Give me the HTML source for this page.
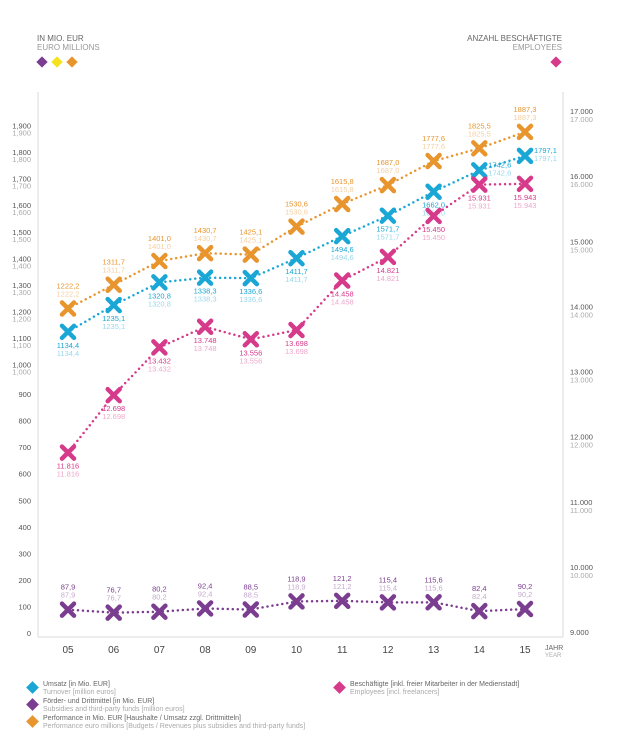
<!DOCTYPE html>
<html><head><meta charset="utf-8"><style>
body{margin:0;background:#fff;font-family:"Liberation Sans",sans-serif;}
svg text{font-family:"Liberation Sans",sans-serif;}
</style></head><body>
<svg id="chart" width="624" height="748" viewBox="0 0 624 748" xmlns="http://www.w3.org/2000/svg">
<g>
<text x="37" y="41" font-size="8" fill="#666">IN MIO. EUR</text>
<text x="37" y="50" font-size="8" fill="#999">EURO MILLIONS</text>
<rect x="38" y="58" width="8" height="8" fill="#7b3d8f" transform="rotate(45 42 62)"/>
<rect x="53" y="58" width="8" height="8" fill="#f5e21c" transform="rotate(45 57 62)"/>
<rect x="68" y="58" width="8" height="8" fill="#e8952e" transform="rotate(45 72 62)"/>
</g>
<g>
<text x="562" y="41" font-size="8" fill="#666" text-anchor="end">ANZAHL BESCHÄFTIGTE</text>
<text x="562" y="50" font-size="8" fill="#999" text-anchor="end">EMPLOYEES</text>
<rect x="552" y="58" width="8" height="8" fill="#d63a8a" transform="rotate(45 556 62)"/>
</g>
<g stroke="#e6e6e6" stroke-width="1.5">
<line x1="38" y1="92" x2="38" y2="637"/>
<line x1="563" y1="92" x2="563" y2="637"/>
<line x1="38" y1="637" x2="563" y2="637"/>
</g>
<g id="leftTicks"></g>
<g id="rightTicks"></g>
<g id="xTicks"></g>
<text x="545" y="650" font-size="7" fill="#666">JAHR</text>
<text x="545" y="657" font-size="6" fill="#aaa">YEAR</text>
<g id="series"></g>
<g font-size="7">
<g>
<rect x="28" y="683" width="9" height="9" fill="#1aa7d6" transform="rotate(45 32.5 687.5)"/>
<text x="43" y="686" fill="#666">Umsatz [in Mio. EUR]</text><text x="43" y="694" fill="#aaa">Turnover [million euros]</text></g>
<g>
<rect x="28" y="700" width="9" height="9" fill="#7b3d8f" transform="rotate(45 32.5 704.5)"/>
<text x="43" y="703" fill="#666">Förder- und Drittmittel [in Mio. EUR]</text><text x="43" y="711" fill="#aaa">Subsidies and third-party funds [million euros]</text></g>
<g>
<rect x="28" y="717" width="9" height="9" fill="#e8952e" transform="rotate(45 32.5 721.5)"/>
<text x="43" y="720" fill="#666">Performance in Mio. EUR [Haushalte / Umsatz zzgl. Drittmitteln]</text><text x="43" y="728" fill="#aaa">Performance euro millions [Budgets / Revenues plus subsidies and third-party funds]</text></g>
<g>
<rect x="335" y="683" width="9" height="9" fill="#d63a8a" transform="rotate(45 339.5 687.5)"/>
<text x="350" y="686" fill="#666">Beschäftigte [inkl. freier Mitarbeiter in der Medienstadt]</text><text x="350" y="694" fill="#aaa">Employees [incl. freelancers]</text></g>
</g>
</svg>
<script>
const years = ["05","06","07","08","09","10","11","12","13","14","15"];
const performance = [1222.2,1311.7,1401.0,1430.7,1425.1,1530.6,1615.8,1687.0,1777.6,1825.5,1887.3];
const turnover = [1134.4,1235.1,1320.8,1338.3,1336.6,1411.7,1494.6,1571.7,1662.0,1742.6,1797.1];
const subsidies = [87.9,76.7,80.2,92.4,88.5,118.9,121.2,115.4,115.6,82.4,90.2];
const employees = [11816,12698,13432,13748,13556,13698,14458,14821,15450,15931,15943];
const leftTicks = [0,100,200,300,400,500,600,700,800,900,1000,1100,1200,1300,1400,1500,1600,1700,1800,1900];
const rightTicks = [9000,10000,11000,12000,13000,14000,15000,16000,17000];

const NS="http://www.w3.org/2000/svg";
const xS=i=>68+i*45.7;
const yL=v=>633-v*0.2655;
const yR=v=>636-(v-9000)*(521/8000);
function mk(tag,attrs,parent){const e=document.createElementNS(NS,tag);for(const k in attrs)e.setAttribute(k,attrs[k]);parent.appendChild(e);return e;}
function fmt(v,dec){let s=dec?v.toFixed(1).replace('.',','):String(v);return s;}
function thou(v){return String(v).replace(/\B(?=(\d{3})+(?!\d))/g,'.');}

const lt=document.getElementById('leftTicks');
leftTicks.forEach(v=>{
  const y=yL(v);
  const big=v>=1000;
  const t=mk('text',{x:31,y:big?y:y+3,'font-size':7.5,fill:'#555','text-anchor':'end'},lt);
  t.textContent=big?thou(v).replace('.',','):String(v);
  
  
  if(big){const t2=mk('text',{x:31,y:y+7,'font-size':7.5,fill:'#aaa','text-anchor':'end'},lt);
  t2.textContent=thou(v).replace('.',',');
  
  }
});
const rt=document.getElementById('rightTicks');
rightTicks.forEach(v=>{
  const y=yR(v);
  const t=mk('text',{x:570,y:y-1,'font-size':7.5,fill:'#555'},rt);
  t.textContent=thou(v);
  
  
  if(v>9000){const t2=mk('text',{x:570,y:y+7,'font-size':7.5,fill:'#aaa'},rt);t2.textContent=thou(v);
  
  }
});
const xt=document.getElementById('xTicks');
years.forEach((yr,i)=>{
  const t=mk('text',{x:xS(i),y:653,'font-size':10,fill:'#444','text-anchor':'middle'},xt);
  t.textContent=yr;
  
  
});

const sg=document.getElementById('series');
function drawSeries(name,vals,yf,color,labelPos,isEmp){
  const g=mk('g',{},sg);
  
  
  const pts=vals.map((v,i)=>xS(i)+','+yf(v)).join(' ');
  const pl=mk('polyline',{points:pts,fill:'none',stroke:color,'stroke-width':2.5,'stroke-dasharray':'0 5','stroke-linecap':'round'},g);
  
  
  vals.forEach((v,i)=>{
    const x=xS(i),y=yf(v);
    const m=mk('path',{d:`M${x-6},${y-6}L${x+6},${y+6}M${x+6},${y-6}L${x-6},${y+6}`,stroke:color,'stroke-width':4.5,'stroke-linecap':'round'},g);
    
    
    let lx=x,ly,anchor='middle';
    const pos=labelPos(i);
    if(pos==='above')ly=y-20;else if(pos==='right'){lx=x+9;ly=y-3;anchor='start';}else ly=y+16;
    const txt=isEmp?thou(v):fmt(v,true);
    const a=mk('text',{x:lx,y:ly,'font-size':7.5,fill:color,'text-anchor':anchor},g);a.textContent=txt;
    
    
    const b=mk('text',{x:lx,y:ly+8,'font-size':7.5,fill:color,opacity:0.45,'text-anchor':anchor},g);b.textContent=txt;
    
    
  });
}
drawSeries('performance',performance,yL,'#e8952e',()=> 'above',false);
drawSeries('turnover',turnover,yL,'#1aa7d6',i=> i>=9?'right':'below',false);
drawSeries('subsidies',subsidies,yL,'#7b3d8f',()=> 'above',false);
drawSeries('employees',employees,yR,'#d63a8a',()=> 'below',true);
</script>
</body></html>
